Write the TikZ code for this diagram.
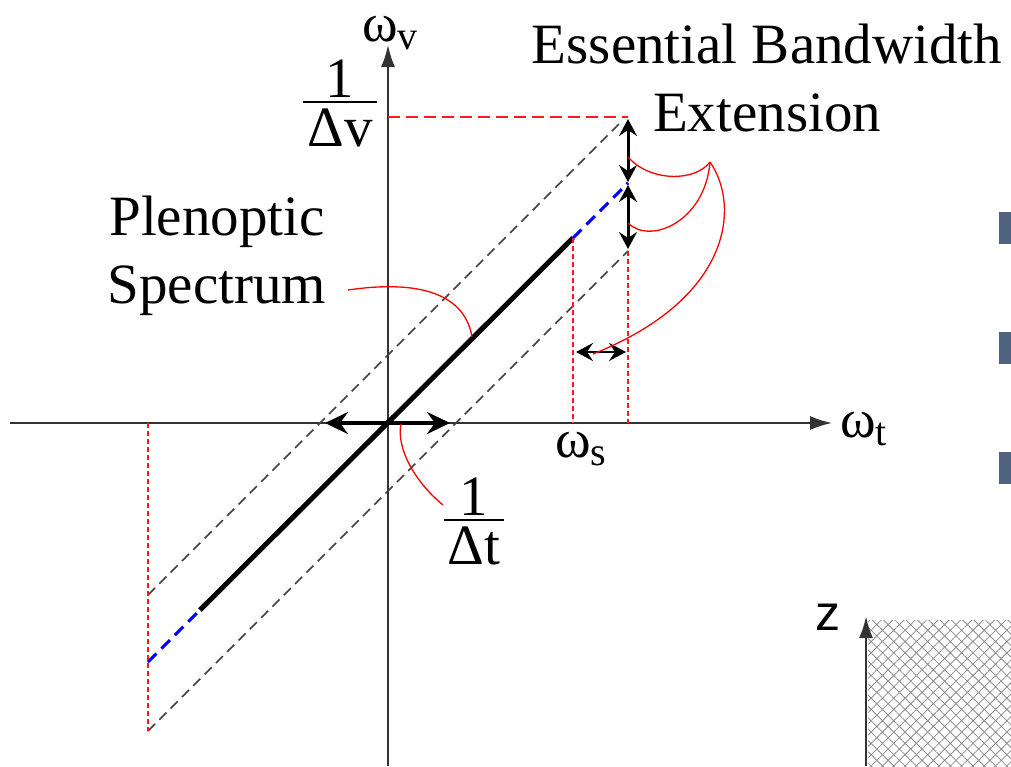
\documentclass[tikz,border=0pt]{standalone}
\usepackage{fontspec}
\setmainfont{Liberation Serif}
\newfontfamily\axisfont{Liberation Sans}
\usetikzlibrary{arrows.meta,patterns.meta}

\definecolor{slate}{RGB}{79,98,128}

\newcommand\barfrac[2]{\vbox{\tabskip=0pt\halign{\hfil##\hfil\cr #1\cr\noalign{\kern3pt\hrule height 2pt\kern6pt}\kern4pt #2\kern4pt\cr}}}
\newcommand\subdown[1]{\raisebox{-8pt}{\fontsize{40}{40}\selectfont #1}}

\begin{document}
\begin{tikzpicture}[x=1pt,y=-1pt]
    \tikzstyle{big} = [inner sep=0pt, font=\fontsize{57}{68}\selectfont]
    \tikzstyle{omega} = [inner sep=0pt, anchor=base west, font=\fontsize{54}{60}\selectfont]
    \tikzstyle{axis} = [draw=black!80, line width=2pt, -{Latex[length=22pt,width=14pt]}]
    \tikzstyle{band} = [black!75, line width=1.5pt, dash pattern=on 10pt off 6pt]
    \tikzstyle{spec} = [black, line width=5pt]
    \tikzstyle{ext} = [blue, line width=3pt, dash pattern=on 12pt off 7pt]
    \tikzstyle{guide} = [red!90, line width=1.3pt, dash pattern=on 5pt off 3pt]
    \tikzstyle{limit} = [red!90, line width=1.3pt, dash pattern=on 12pt off 6pt]
    \tikzstyle{span} = [line width=3pt, {Stealth[length=17pt,width=18pt,inset=6pt]}-{Stealth[length=17pt,width=18pt,inset=6pt]}]
    \tikzstyle{callout} = [red, line width=1.3pt]

    \useasboundingbox (0,0) rectangle (1011,766);

    % axes
    \coordinate (O) at (388,423);
    \coordinate (xmin) at (10,423);
    \coordinate (xmax) at (832,423);
    \coordinate (ymin) at (388,766);
    \coordinate (ymax) at (388,45);
    \draw[axis] (xmin) -- (xmax);
    \draw[axis] (ymin) -- (ymax);

    \node[omega] (wv) at (362,41) {ω\subdown{v}};
    \node[omega] (wt) at (840,437) {ω\subdown{t}};
    \node[omega] (ws) at (555,457) {ω\subdown{s}};

    % band edges
    \coordinate (upL) at (148,595);
    \coordinate (upR) at (622,121);
    \coordinate (loL) at (148,731);
    \coordinate (loR) at (628,251);
    \draw[band] (upL) -- (upR);
    \draw[band] (loL) -- (loR);

    % plenoptic spectrum
    \coordinate (spL) at (200,610);
    \coordinate (spR) at (573,238);
    \coordinate (exL) at (148,662);
    \coordinate (exR) at (628,183);
    \draw[ext] (exL) -- (spL);
    \draw[ext] (spR) -- (exR);
    \draw[spec] (spL) -- (spR);

    % red guides
    \coordinate (topV) at (388,117);
    \coordinate (topR) at (628,117);
    \coordinate (ax628) at (628,423);
    \coordinate (ax573) at (573,423);
    \coordinate (ax148) at (148,423);
    \draw[limit] (topV) -- (topR);
    \draw[guide] (loR) -- (ax628);
    \draw[guide] (spR) -- (ax573);
    \draw[guide] (ax148) -- (loL);

    % extension arrows
    \coordinate (eA) at (628,119);
    \coordinate (eB) at (628,182);
    \coordinate (eC) at (628,185);
    \coordinate (eD) at (628,249);
    \coordinate (hL) at (576,352);
    \coordinate (hR) at (626,352);
    \coordinate (tL) at (325,423);
    \coordinate (tR) at (450,423);
    \draw[span] (eA) -- (eB);
    \draw[span] (eC) -- (eD);
    \draw[span, line width=2.5pt] (hL) -- (hR);
    \draw[span, line width=4pt, {Stealth[length=23pt,width=22pt,inset=8pt]}-{Stealth[length=23pt,width=22pt,inset=8pt]}] (tL) -- (tR);

    % labels
    \node[big, align=center, anchor=north] (ebw) at (767,24) {Essential Bandwidth\\Extension};
    \node[big, align=center, anchor=north] (ps) at (217,196) {Plenoptic\\Spectrum};
    \node[big, anchor=north] (dv) at (340,60) {\barfrac{1}{Δv}};
    \node[big, anchor=north] (dt) at (474,478) {\barfrac{1}{Δt}};

    % callouts
    \coordinate (apex) at (710,162);
    \coordinate (cA) at (628,157);
    \coordinate (cB) at (628,223);
    \coordinate (cH) at (593,354);
    \coordinate (psEnd) at (348,290);
    \coordinate (psHit) at (472,337);
    \coordinate (dtA) at (401,424);
    \coordinate (dtB) at (443,505);
    \draw[callout] (cA) .. controls (650,182) and (695,182) .. (apex);
    \draw[callout] (cB) .. controls (650,245) and (705,222) .. (apex);
    \draw[callout] (apex) .. controls (740,205) and (733,298) .. (cH);
    \draw[callout] (psEnd) .. controls (430,278) and (466,300) .. (psHit);
    \draw[callout] (dtA) .. controls (396,448) and (415,482) .. (dtB);

    % slide parts
    \foreach \i in {0,1,2} {
        \fill[slate] (999,212+\i*120) rectangle (1011,244+\i*120);
    }
    \fill[pattern={Hatch[angle=45,distance=8pt,line width=0.8pt]}, pattern color=black!45] (868,620) rectangle (1011,766);
    \coordinate (zb) at (866,766);
    \coordinate (zt) at (866,616);
    \draw[axis, line width=2.5pt] (zb) -- (zt);
    \node[inner sep=0pt, font=\axisfont\fontsize{50}{50}\selectfont] (zl) at (828,617) {z};
\end{tikzpicture}
\end{document}
